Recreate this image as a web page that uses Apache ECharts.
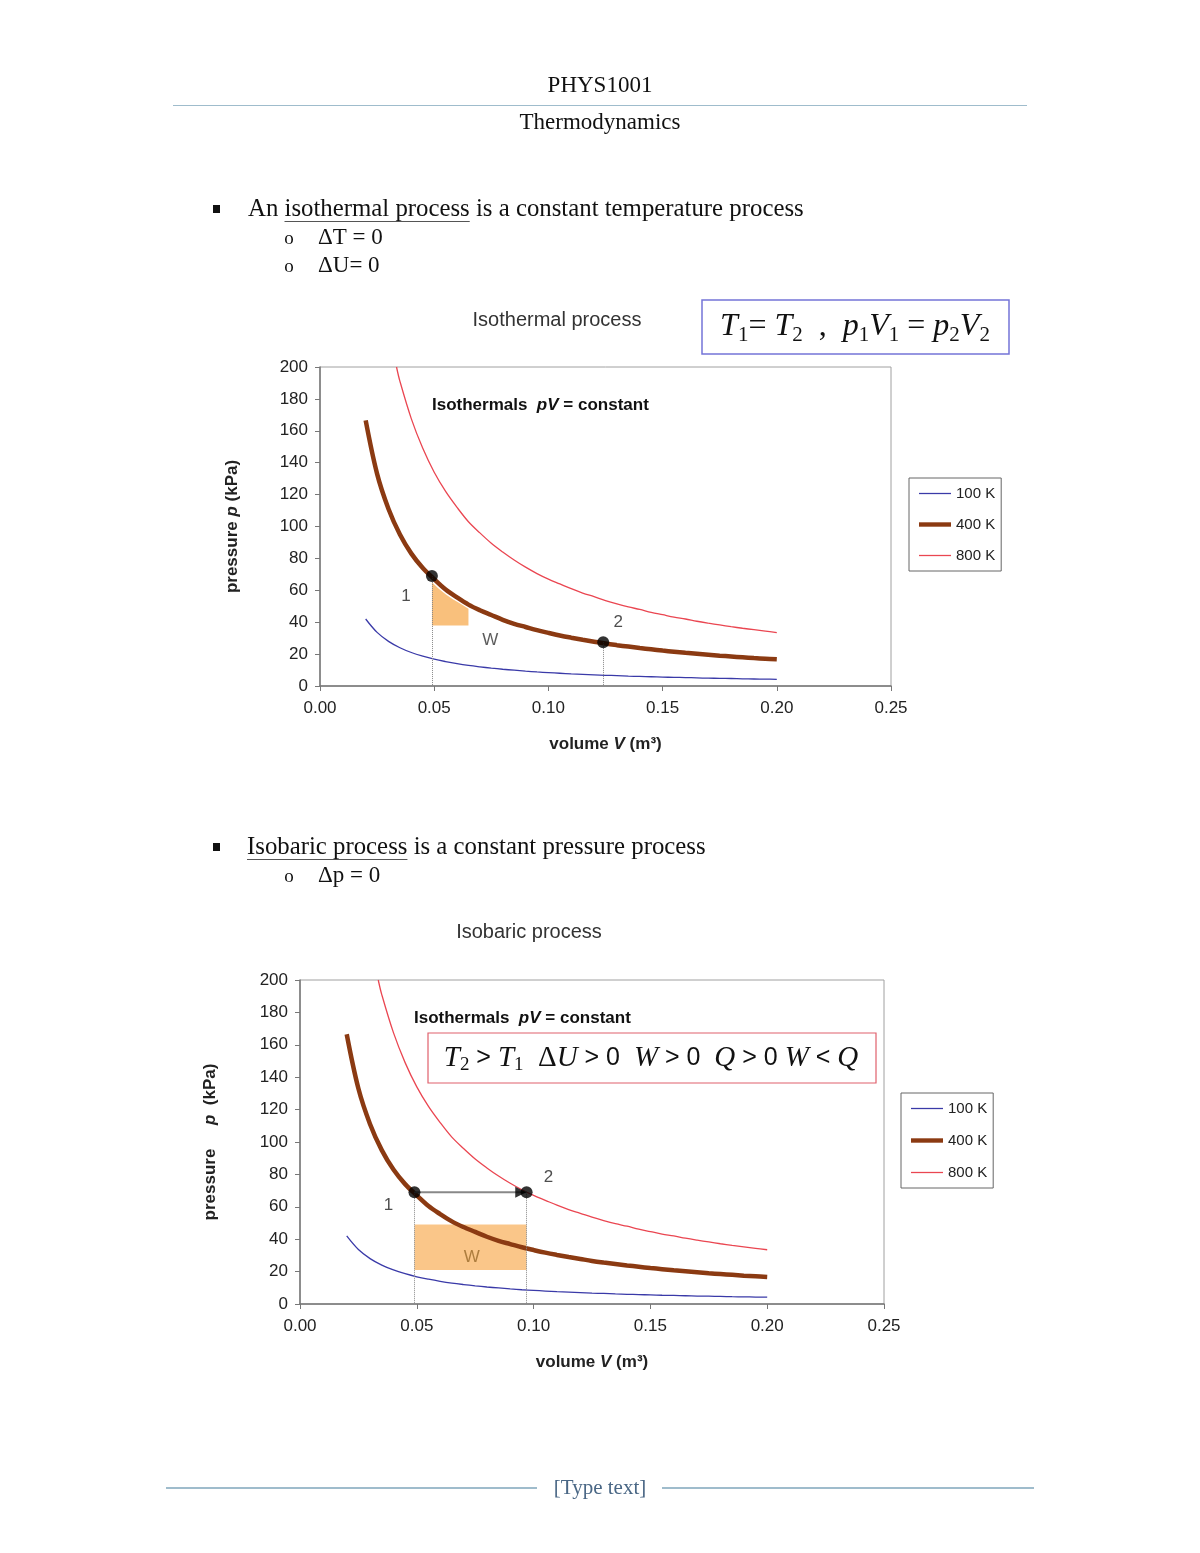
<!DOCTYPE html>
<html>
<head>
<meta charset="utf-8">
<title>Thermodynamics</title>
<script src="https://cdn.jsdelivr.net/npm/echarts@6/dist/echarts.min.js"></script>
<style>
html, body { margin: 0; padding: 0; background: #fff; }
#page { width: 1200px; height: 1553px; }
</style>
</head>
<body>
<div id="page"></div>
<script>
// isotherms: volume in m3, pressure in kPa
var volume = [0.020, 0.025, 0.030, 0.035, 0.040, 0.045, 0.050, 0.055, 0.060, 0.065, 0.070, 0.075, 0.080, 0.085, 0.090, 0.095, 0.100, 0.105, 0.110, 0.115, 0.120, 0.125, 0.130, 0.135, 0.140, 0.145, 0.150, 0.155, 0.160, 0.165, 0.170, 0.175, 0.180, 0.185, 0.190, 0.195, 0.200];
var p100K = [42, 33.6, 28, 24, 21, 18.7, 16.8, 15.3, 14, 12.9, 12, 11.2, 10.5, 9.9, 9.3, 8.8, 8.4, 8, 7.6, 7.3, 7, 6.7, 6.5, 6.2, 6, 5.8, 5.6, 5.4, 5.3, 5.1, 4.9, 4.8, 4.7, 4.5, 4.4, 4.3, 4.2];
var p400K = [166.5, 133, 111, 95, 83, 74, 67, 60.5, 55.5, 51, 47.5, 44.5, 41.5, 39, 37, 35, 33.3, 31.7, 30.3, 29, 27.8, 26.6, 25.6, 24.7, 23.8, 23, 22.2, 21.5, 20.8, 20.2, 19.6, 19, 18.5, 18, 17.5, 17.1, 16.7];
var volume800 = [0.0335, 0.035, 0.040, 0.045, 0.050, 0.055, 0.060, 0.065, 0.070, 0.075, 0.080, 0.085, 0.090, 0.095, 0.100, 0.105, 0.110, 0.115, 0.120, 0.125, 0.130, 0.135, 0.140, 0.145, 0.150, 0.155, 0.160, 0.165, 0.170, 0.175, 0.180, 0.185, 0.190, 0.195, 0.200];
var p800K = [200, 191, 167.5, 149, 134, 122, 112, 103, 96, 89.5, 84, 79, 74.5, 70.5, 67, 64, 61, 58.3, 56, 53.6, 51.5, 49.6, 48, 46.2, 44.7, 43.2, 42, 40.6, 39.4, 38.3, 37.2, 36.2, 35.3, 34.4, 33.5];

var seriesNames = ['100 K', '400 K', '800 K'];

// isothermal process: states 1 and 2, and the shaded W patch
var isoStates = [[0.049, 69], [0.124, 27.5]];
var isoShadeV = [0.049, 0.052, 0.055, 0.058, 0.061, 0.065];
var isoShadeTop = [65, 61, 57.5, 54.5, 52, 48.5];
var isoShadeBottom = 38;
var isoW = [0.0745, 28.5];

// isobaric process
var barStates = [[0.049, 69], [0.097, 69]];
var barShadeV = [0.049, 0.097];
var barShadeP = [21, 49];
var barW = [0.0735, 29];

function pairs(xs, ys) {
    var out = [];
    for (var i = 0; i < xs.length; i++) out.push([xs[i], ys[i]]);
    return out;
}

var sans = 'Liberation Sans';
var serif = 'Liberation Serif';

function xAxisFor(g) {
    return {
        gridIndex: g, type: 'value', min: 0, max: 0.25, interval: 0.05,
        axisLine: { show: true, onZero: false, lineStyle: { color: '#777', width: 1.5 } },
        axisTick: { show: true, length: 5, lineStyle: { color: '#777' } },
        axisLabel: { formatter: function (v) { return v.toFixed(2); }, fontSize: 17, color: '#222', fontFamily: sans, margin: 14 },
        splitLine: { show: false },
        name: '{b|volume }{bi|V}{b| (m³)}',
        nameLocation: 'middle', nameGap: 50,
        nameTextStyle: {
            rich: {
                b: { fontWeight: 'bold', fontSize: 17, fontFamily: sans, color: '#222' },
                bi: { fontWeight: 'bold', fontStyle: 'italic', fontSize: 17, fontFamily: sans, color: '#222' }
            }
        }
    };
}

function yAxisFor(g, name, gap) {
    return {
        gridIndex: g, type: 'value', min: 0, max: 200, interval: 20,
        axisLine: { show: true, onZero: false, lineStyle: { color: '#777', width: 1.5 } },
        axisTick: { show: true, length: 5, lineStyle: { color: '#777' } },
        axisLabel: { fontSize: 17, color: '#222', fontFamily: sans, margin: 12 },
        splitLine: { show: false },
        name: name, nameLocation: 'middle', nameGap: gap, nameRotate: 90,
        nameTextStyle: {
            rich: {
                b: { fontWeight: 'bold', fontSize: 17, fontFamily: sans, color: '#222' },
                bi: { fontWeight: 'bold', fontStyle: 'italic', fontSize: 17, fontFamily: sans, color: '#222' }
            }
        }
    };
}

function curves(g) {
    return [
        { name: seriesNames[0], type: 'line', xAxisIndex: g, yAxisIndex: g, data: pairs(volume, p100K),
          smooth: 0.35, symbol: 'none', lineStyle: { color: '#3a3aa8', width: 1.3 }, itemStyle: { color: '#3a3aa8' }, z: 3 },
        { name: seriesNames[1], type: 'line', xAxisIndex: g, yAxisIndex: g, data: pairs(volume, p400K),
          smooth: 0.35, symbol: 'none', lineStyle: { color: '#8b3a12', width: 4.5 }, itemStyle: { color: '#8b3a12' }, z: 3 },
        { name: seriesNames[2], type: 'line', xAxisIndex: g, yAxisIndex: g, data: pairs(volume800, p800K),
          smooth: 0.35, symbol: 'none', lineStyle: { color: '#ea4651', width: 1.3 }, itemStyle: { color: '#ea4651' }, z: 3 }
    ];
}

function statePoints(g, states, offsets) {
    var data = [];
    for (var i = 0; i < states.length; i++) {
        data.push({ value: states[i], label: { formatter: String(i + 1), offset: offsets[i] } });
    }
    return {
        type: 'scatter', xAxisIndex: g, yAxisIndex: g, data: data, symbolSize: 12,
        itemStyle: { color: '#000' }, z: 6,
        label: { show: true, position: 'inside', fontSize: 17, color: '#222', fontFamily: sans },
        markLine: {
            silent: true, symbol: 'none', label: { show: false },
            lineStyle: { color: '#888', width: 1, type: 'dotted' },
            data: states.map(function (s) { return [{ coord: [s[0], s[1]] }, { coord: [s[0], 0] }]; })
        }
    };
}

function wLabel(g, pos, color) {
    return {
        type: 'scatter', xAxisIndex: g, yAxisIndex: g, data: [pos], symbolSize: 0, z: 6,
        label: { show: true, position: 'inside', formatter: 'W', fontSize: 17, color: color, fontFamily: sans }
    };
}

var series = [];
series = series.concat(curves(0));
series.push({
    type: 'custom', xAxisIndex: 0, yAxisIndex: 0, data: [[isoShadeV[0], isoShadeBottom]], z: 1,
    renderItem: function (params, api) {
        var pts = [];
        for (var i = 0; i < isoShadeV.length; i++) pts.push(api.coord([isoShadeV[i], isoShadeTop[i]]));
        pts.push(api.coord([isoShadeV[isoShadeV.length - 1], isoShadeBottom]));
        pts.push(api.coord([isoShadeV[0], isoShadeBottom]));
        return { type: 'polygon', shape: { points: pts }, style: { fill: '#f9c07c' } };
    }
});
series.push(statePoints(0, isoStates, [[-26, 20], [15, -20]]));
series.push(wLabel(0, isoW, '#333'));

series = series.concat(curves(1));
series.push({
    type: 'custom', xAxisIndex: 1, yAxisIndex: 1, data: [[barShadeV[0], barShadeP[0]]], z: 1,
    renderItem: function (params, api) {
        var a = api.coord([barShadeV[0], barShadeP[1]]);
        var b = api.coord([barShadeV[1], barShadeP[0]]);
        return { type: 'rect', shape: { x: a[0], y: a[1], width: b[0] - a[0], height: b[1] - a[1] }, style: { fill: '#f9c07c', opacity: 0.9 } };
    }
});
series.push(statePoints(1, barStates, [[-26, 13], [22, -15]]));
series.push({
    type: 'line', xAxisIndex: 1, yAxisIndex: 1, data: barStates, symbol: 'none', z: 4,
    lineStyle: { color: '#888', width: 2 }
});
series.push({
    type: 'scatter', xAxisIndex: 1, yAxisIndex: 1, data: [[barStates[1][0] - 0.0025, barStates[1][1]]],
    symbol: 'triangle', symbolRotate: -90, symbolSize: 11, itemStyle: { color: '#000' }, z: 5
});
series.push(wLabel(1, barW, '#9a6a2a'));

function legendFor(left, top, gap) {
    return {
        left: left, top: top, orient: 'vertical', itemWidth: 32, itemHeight: 16, itemGap: gap,
        padding: [8, 6, 8, 10], borderColor: '#666', borderWidth: 1,
        textStyle: { fontSize: 15, fontFamily: sans, color: '#222' },
        data: [
            { name: '100 K', icon: 'path://M0,0H40V1.6H0Z', itemStyle: { color: '#3a3aa8', borderWidth: 0 } },
            { name: '400 K', icon: 'path://M0,0H40V5.5H0Z', itemStyle: { color: '#8b3a12', borderWidth: 0 } },
            { name: '800 K', icon: 'path://M0,0H40V1.6H0Z', itemStyle: { color: '#ea4651', borderWidth: 0 } }
        ]
    };
}

function txt(x, y, text, font, align, fill) {
    return { type: 'text', x: x, y: y, silent: true,
             style: { text: text, font: font, align: align || 'left', verticalAlign: 'middle', fill: fill || '#111' } };
}
function hline(x1, x2, y, color, w) {
    return { type: 'line', silent: true, shape: { x1: x1, y1: y, x2: x2, y2: y }, style: { stroke: color, lineWidth: w } };
}
function box(x, y, w, h, color, lw) {
    return { type: 'rect', silent: true, shape: { x: x, y: y, width: w, height: h }, style: { fill: 'none', stroke: color, lineWidth: lw } };
}
function rich(x, y, text, styles, align) {
    return { type: 'text', x: x, y: y, silent: true,
             style: { text: text, rich: styles, align: align || 'left', verticalAlign: 'middle', fill: '#111' } };
}

var headFont = '23px "Liberation Serif"';
var bodyFont = '24.8px "Liberation Serif"';
var subFont = '23px "Liberation Serif"';

// underline spans measured from the text itself
var measure = document.createElement('canvas').getContext('2d');
measure.font = bodyFont;
function textWidth(s) { return measure.measureText(s).width; }
var u1Start = 248 + textWidth('An ');
var u1End = u1Start + textWidth('isothermal process');
var u2End = 247 + textWidth('Isobaric process');

var boldLabel = {
    b: { fontWeight: 'bold', fontSize: 17, fontFamily: sans, fill: '#111' },
    bi: { fontWeight: 'bold', fontStyle: 'italic', fontSize: 17, fontFamily: sans, fill: '#111' }
};
var formulaStyle = {
    i: { fontStyle: 'italic', fontSize: 32, fontFamily: serif, fill: '#111' },
    n: { fontSize: 32, fontFamily: serif, fill: '#111' },
    s: { fontSize: 21, fontFamily: serif, fill: '#111', padding: [16, 0, 0, 0] }
};
var formulaStyle2 = {
    i: { fontStyle: 'italic', fontSize: 29, fontFamily: serif, fill: '#111' },
    n: { fontSize: 29, fontFamily: serif, fill: '#111' },
    s: { fontSize: 19, fontFamily: serif, fill: '#111', padding: [14, 0, 0, 0] },
    o: { fontSize: 25, fontFamily: sans, fill: '#111' }
};

var graphic = [
    txt(600, 86, 'PHYS1001', headFont, 'center'),
    hline(173, 1027, 105.5, '#9fbccc', 1.2),
    txt(600, 123, 'Thermodynamics', headFont, 'center'),

    { type: 'rect', silent: true, shape: { x: 213, y: 205, width: 7, height: 8 }, style: { fill: '#111' } },
    txt(248, 209, 'An isothermal process is a constant temperature process', bodyFont),
    hline(u1Start, u1End, 221.5, '#555', 1),
    txt(289, 239, 'o', '19px "Liberation Serif"', 'center'),
    txt(318, 238, 'ΔT = 0', subFont),
    txt(289, 267, 'o', '19px "Liberation Serif"', 'center'),
    txt(318, 266, 'ΔU= 0', subFont),

    txt(557, 320, 'Isothermal process', '20px "Liberation Sans"', 'center', '#333'),
    box(702, 300, 307, 54, '#7474d8', 1.5),
    rich(855, 327, '{i|T}{s|1}{n|= }{i|T}{s|2}{n|  ,  }{i|p}{s|1}{i|V}{s|1}{n| = }{i|p}{s|2}{i|V}{s|2}', formulaStyle, 'center'),
    rich(432, 405, '{b|Isothermals  }{bi|pV}{b| = constant}', boldLabel),

    { type: 'rect', silent: true, shape: { x: 213, y: 843, width: 7, height: 8 }, style: { fill: '#111' } },
    txt(247, 847, 'Isobaric process is a constant pressure process', bodyFont),
    hline(247, u2End, 859.5, '#555', 1),
    txt(289, 877, 'o', '19px "Liberation Serif"', 'center'),
    txt(318, 876, 'Δp = 0', subFont),

    txt(529, 932, 'Isobaric process', '20px "Liberation Sans"', 'center', '#333'),
    rich(414, 1018, '{b|Isothermals  }{bi|pV}{b| = constant}', boldLabel),
    box(428, 1033, 448, 50, '#e0606c', 1.2),
    rich(651, 1058, '{i|T}{s|2}{o| > }{i|T}{s|1}{n|  Δ}{i|U}{o| > 0  }{i|W}{o| > 0  }{i|Q}{o| > 0 }{i|W}{o| < }{i|Q}', formulaStyle2, 'center'),

    hline(166, 537, 1488, '#9fbccc', 2),
    hline(662, 1034, 1488, '#9fbccc', 2),
    txt(600, 1488, '[Type text]', '21px "Liberation Serif"', 'center', '#4a6785')
];

var myChart = echarts.init(document.getElementById('page'), null, { renderer: 'canvas' });
var option = {
    backgroundColor: '#fff',
    animation: false,
    grid: [
        { left: 320, top: 367, width: 571, height: 319, show: true, borderColor: '#a0a0a0', borderWidth: 1 },
        { left: 300, top: 980, width: 584, height: 324, show: true, borderColor: '#a0a0a0', borderWidth: 1 }
    ],
    xAxis: [xAxisFor(0), xAxisFor(1)],
    yAxis: [
        yAxisFor(0, '{b|pressure }{bi|p}{b| (kPa)}', 79),
        yAxisFor(1, '{b|pressure     }{bi|p}{b|  (kPa)}', 81)
    ],
    legend: [legendFor(909, 478, 16), legendFor(901, 1093, 17)],
    graphic: graphic,
    series: series
};
myChart.setOption(option);
</script>
</body>
</html>
